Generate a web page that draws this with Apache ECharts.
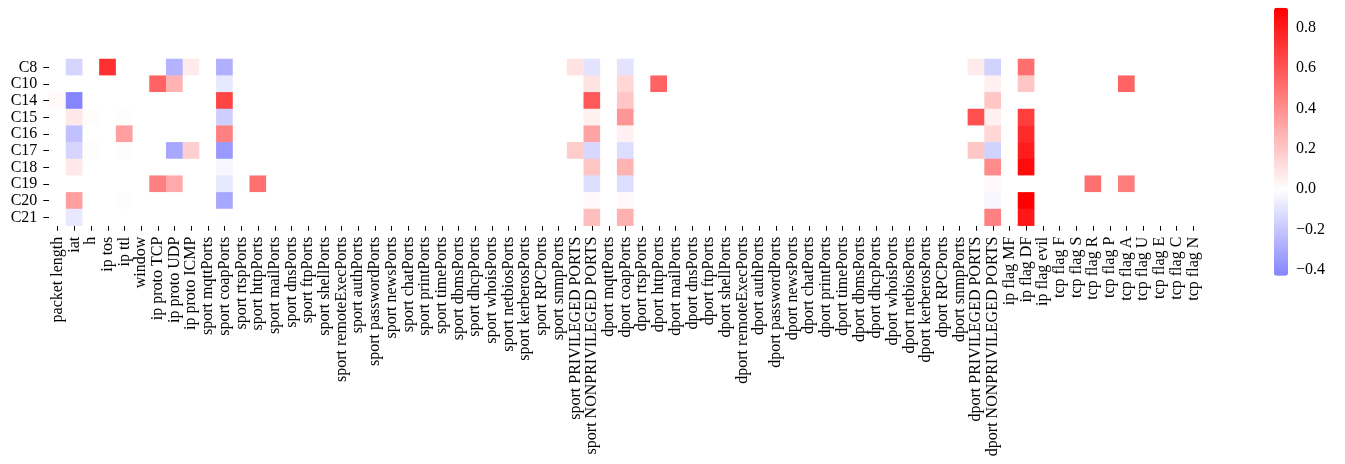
<!DOCTYPE html>
<html>
<head>
<meta charset="utf-8">
<script src="https://cdn.jsdelivr.net/npm/echarts@6/dist/echarts.min.js"></script>
<style>
  html, body { margin: 0; padding: 0; background: #ffffff; }
  #chart { width: 1345px; height: 464px; }
</style>
</head>
<body>
<div id="chart"></div>
<script>
// Feature names (columns) and clusters (rows)
const features = [
  'packet length', 'iat', 'h', 'ip tos', 'ip ttl', 'window',
  'ip proto TCP', 'ip proto UDP', 'ip proto ICMP',
  'sport mqttPorts', 'sport coapPorts', 'sport rtspPorts', 'sport httpPorts',
  'sport mailPorts', 'sport dnsPorts', 'sport ftpPorts', 'sport shellPorts',
  'sport remoteExecPorts', 'sport authPorts', 'sport passwordPorts',
  'sport newsPorts', 'sport chatPorts', 'sport printPorts', 'sport timePorts',
  'sport dbmsPorts', 'sport dhcpPorts', 'sport whoisPorts', 'sport netbiosPorts',
  'sport kerberosPorts', 'sport RPCPorts', 'sport snmpPorts',
  'sport PRIVILEGED PORTS', 'sport NONPRIVILEGED PORTS',
  'dport mqttPorts', 'dport coapPorts', 'dport rtspPorts', 'dport httpPorts',
  'dport mailPorts', 'dport dnsPorts', 'dport ftpPorts', 'dport shellPorts',
  'dport remoteExecPorts', 'dport authPorts', 'dport passwordPorts',
  'dport newsPorts', 'dport chatPorts', 'dport printPorts', 'dport timePorts',
  'dport dbmsPorts', 'dport dhcpPorts', 'dport whoisPorts', 'dport netbiosPorts',
  'dport kerberosPorts', 'dport RPCPorts', 'dport snmpPorts',
  'dport PRIVILEGED PORTS', 'dport NONPRIVILEGED PORTS',
  'ip flag MF', 'ip flag DF', 'ip flag evil',
  'tcp flag F', 'tcp flag S', 'tcp flag R', 'tcp flag P', 'tcp flag A',
  'tcp flag U', 'tcp flag E', 'tcp flag C', 'tcp flag N'
];
const clusters = ['C8', 'C10', 'C14', 'C15', 'C16', 'C17', 'C18', 'C19', 'C20', 'C21'];

// One row of values per cluster, in feature order
const C8 = [0, -0.15, 0, 0.73, 0, 0, 0, -0.27, 0.07, 0, -0.28,
  0, 0, 0, 0, 0, 0, 0, 0, 0, 0, 0, 0, 0, 0, 0, 0, 0, 0, 0, 0,
  0.10, -0.10, 0, -0.10, 0, 0,
  0, 0, 0, 0, 0, 0, 0, 0, 0, 0, 0, 0, 0, 0, 0, 0, 0, 0,
  0.07, -0.16, 0, 0.51, 0, 0, 0, 0, 0, 0, 0, 0, 0, 0];
const C10 = [0, 0, 0, 0, 0, 0, 0.55, 0.27, 0, 0, -0.08,
  0, 0, 0, 0, 0, 0, 0, 0, 0, 0, 0, 0, 0, 0, 0, 0, 0, 0, 0, 0,
  0, 0.10, 0, 0.14, 0, 0.55,
  0, 0, 0, 0, 0, 0, 0, 0, 0, 0, 0, 0, 0, 0, 0, 0, 0, 0,
  0, 0.05, 0, 0.20, 0, 0, 0, 0, 0, 0.55, 0, 0, 0, 0];
const C14 = [0.02, -0.43, 0, 0, 0, 0, 0, 0, 0, 0, 0.66,
  0, 0, 0, 0, 0, 0, 0, 0, 0, 0, 0, 0, 0, 0, 0, 0, 0, 0, 0, 0,
  0, 0.59, 0, 0.20, 0, 0,
  0, 0, 0, 0, 0, 0, 0, 0, 0, 0, 0, 0, 0, 0, 0, 0, 0, 0,
  0, 0.20, 0, 0, 0, 0, 0, 0, 0, 0, 0, 0, 0, 0];
const C15 = [0, 0.08, 0.01, 0, 0.01, 0, 0, 0, 0, 0, -0.17,
  0, 0, 0, 0, 0, 0, 0, 0, 0, 0, 0, 0, 0, 0, 0, 0, 0, 0, 0, 0,
  0, 0.05, 0, 0.37, 0, 0,
  0, 0, 0, 0, 0, 0, 0, 0, 0, 0, 0, 0, 0, 0, 0, 0, 0, 0,
  0.62, 0.05, 0, 0.68, 0, 0, 0, 0, 0, 0, 0, 0, 0, 0];
const C16 = [0, -0.22, 0, 0, 0.34, 0, 0, 0, 0, 0, 0.45,
  0, 0, 0, 0, 0, 0, 0, 0, 0, 0, 0, 0, 0, 0, 0, 0, 0, 0, 0, 0,
  0, 0.32, 0, 0.05, 0, 0,
  0, 0, 0, 0, 0, 0, 0, 0, 0, 0, 0, 0, 0, 0, 0, 0, 0, 0,
  0, 0.14, 0, 0.75, 0, 0, 0, 0, 0, 0, 0, 0, 0, 0];
const C17 = [0, -0.15, 0.01, 0, 0.01, 0, 0, -0.31, 0.17, 0, -0.36,
  0, 0, 0, 0, 0, 0, 0, 0, 0, 0, 0, 0, 0, 0, 0, 0, 0, 0, 0, 0,
  0.18, -0.14, 0, -0.12, 0, 0,
  0, 0, 0, 0, 0, 0, 0, 0, 0, 0, 0, 0, 0, 0, 0, 0, 0, 0,
  0.20, -0.16, 0, 0.80, 0, 0, 0, 0, 0, 0, 0, 0, 0, 0];
const C18 = [0, 0.08, 0, 0, 0, 0, 0, 0, 0, 0, -0.03,
  0, 0, 0, 0, 0, 0, 0, 0, 0, 0, 0, 0, 0, 0, 0, 0, 0, 0, 0, 0,
  0, 0.20, 0, 0.27, 0, 0,
  0, 0, 0, 0, 0, 0, 0, 0, 0, 0, 0, 0, 0, 0, 0, 0, 0, 0,
  0, 0.41, 0, 0.86, 0, 0, 0, 0, 0, 0, 0, 0, 0, 0];
const C19 = [0, 0, 0, 0, 0, 0, 0.45, 0.30, 0, 0, -0.08,
  0, 0.50, 0, 0, 0, 0, 0, 0, 0, 0, 0, 0, 0, 0, 0, 0, 0, 0, 0, 0,
  0, -0.12, 0, -0.12, 0, 0,
  0, 0, 0, 0, 0, 0, 0, 0, 0, 0, 0, 0, 0, 0, 0, 0, 0, 0,
  0, 0.02, 0, 0, 0, 0, 0, 0.50, 0, 0.46, 0, 0, 0, 0];
const C20 = [0, 0.34, 0, 0, 0.01, 0, 0, 0, 0, 0, -0.31,
  0, 0, 0, 0, 0, 0, 0, 0, 0, 0, 0, 0, 0, 0, 0, 0, 0, 0, 0, 0,
  0, 0.02, 0, 0.02, 0, 0,
  0, 0, 0, 0, 0, 0, 0, 0, 0, 0, 0, 0, 0, 0, 0, 0, 0, 0,
  0, -0.03, 0, 0.90, 0, 0, 0, 0, 0, 0, 0, 0, 0, 0];
const C21 = [0, -0.08, 0, 0, 0, 0, 0, 0, 0, 0, 0.005,
  0, 0, 0, 0, 0, 0, 0, 0, 0, 0, 0, 0, 0, 0, 0, 0, 0, 0, 0, 0,
  0, 0.23, 0, 0.28, 0, 0,
  0, 0, 0, 0, 0, 0, 0, 0, 0, 0, 0, 0, 0, 0, 0, 0, 0, 0,
  0, 0.45, 0, 0.82, 0, 0, 0, 0, 0, 0, 0, 0, 0, 0];
const rowValues = [C8, C10, C14, C15, C16, C17, C18, C19, C20, C21];

// Colour bar range and tick labels
const vMin = -0.43;
const vMax = 0.90;
const barTicks = [-0.4, -0.2, 0, 0.2, 0.4, 0.6, 0.8];

// Diverging blue-white-red scale centred on zero (same scale on both sides)
const span = Math.max(vMax, -vMin);
function divergingColor(v) {
  const f = Math.min(1, Math.abs(v) / span);
  const c = Math.round(255 * (1 - f));
  return v >= 0 ? `rgb(255,${c},${c})` : `rgb(${c},${c},255)`;
}
const steps = Math.round((vMax - vMin) * 100);
const rampColors = [];
for (let i = 0; i <= steps; i++) rampColors.push(divergingColor(vMin + (vMax - vMin) * i / steps));

const cells = [];
rowValues.forEach((row, r) => row.forEach((v, c) => cells.push([c, r, v])));

const FONT = '"Liberation Serif", "Times New Roman", serif';
const labelStyle = { fontFamily: FONT, fontSize: 16, color: '#000' };

const chart = echarts.init(document.getElementById('chart'), null, { renderer: 'canvas' });
chart.setOption({
  animation: false,
  backgroundColor: '#ffffff',
  grid: [
    { left: 49.3, top: 59, width: 1152.4, height: 166.7 },
    { left: 1274, top: 7.7, width: 14, height: 268 }
  ],
  xAxis: [
    {
      gridIndex: 0, type: 'category', data: features,
      axisLine: { show: false },
      axisTick: { show: true, length: 5, alignWithLabel: true, lineStyle: { color: '#000', width: 1 } },
      axisLabel: Object.assign({ rotate: 90, interval: 0, margin: 11 }, labelStyle),
      splitLine: { show: false }
    },
    { gridIndex: 1, type: 'value', show: false }
  ],
  yAxis: [
    {
      gridIndex: 0, type: 'category', data: clusters, inverse: true,
      axisLine: { show: false },
      axisTick: { show: true, length: 6, alignWithLabel: true, lineStyle: { color: '#000', width: 1 } },
      axisLabel: Object.assign({ interval: 0, margin: 12 }, labelStyle),
      splitLine: { show: false }
    },
    {
      gridIndex: 1, type: 'value', position: 'right', min: vMin, max: vMax,
      axisLine: { show: false },
      splitLine: { show: false },
      axisTick: { show: true, length: 5, customValues: barTicks, lineStyle: { color: '#000', width: 1 } },
      axisLabel: Object.assign({
        margin: 8,
        customValues: barTicks,
        formatter: v => (v < 0 ? '\u2212' : '') + Math.abs(v).toFixed(1)
      }, labelStyle)
    }
  ],
  visualMap: {
    type: 'continuous',
    seriesIndex: 0,
    min: vMin, max: vMax,
    calculable: false,
    orient: 'vertical',
    left: 1274, top: 7.7,
    itemWidth: 14, itemHeight: 268,
    padding: 0,
    inRange: { color: rampColors }
  },
  series: [{
    type: 'heatmap',
    xAxisIndex: 0, yAxisIndex: 0,
    data: cells,
    itemStyle: { borderWidth: 0 },
    emphasis: { disabled: true }
  }]
});
</script>
</body>
</html>
